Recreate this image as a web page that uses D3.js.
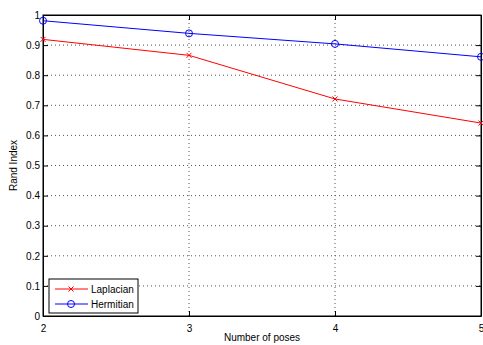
<!DOCTYPE html>
<html>
<head>
<meta charset="utf-8">
<script src="https://cdn.jsdelivr.net/npm/d3@7"></script>
<style>
  body { margin: 0; background: #fff; }
  svg text { font-family: "Liberation Sans", Arial, sans-serif; }
</style>
</head>
<body>
<div id="chart"></div>
<script>
const poses = [2, 3, 4, 5];
const laplacian = [0.919, 0.866, 0.721, 0.641];
const hermitian = [0.981, 0.939, 0.904, 0.861];
const yTicks = [0, 0.1, 0.2, 0.3, 0.4, 0.5, 0.6, 0.7, 0.8, 0.9, 1];

const W = 483, H = 345;
const margin = { top: 15, right: 2, bottom: 29, left: 43 },
  width = W - margin.left - margin.right,
  height = H - margin.top - margin.bottom;

const svg = d3.select("#chart").append("svg")
  .attr("width", W).attr("height", H)
  .append("g")
  .attr("transform", `translate(${margin.left}, ${margin.top})`);

const x = d3.scaleLinear().domain([2, 5]).range([0, width]);
const y = d3.scaleLinear().domain([0, 1]).range([height, 0]);

// grid
svg.append("g").selectAll("line").data(poses.slice(1, -1)).enter().append("line")
  .attr("x1", d => x(d)).attr("x2", d => x(d))
  .attr("y1", 0).attr("y2", height)
  .attr("stroke", "#555").attr("stroke-width", 1).attr("stroke-dasharray", "1,3");
svg.append("g").selectAll("line").data(yTicks.slice(1, -1)).enter().append("line")
  .attr("y1", d => y(d)).attr("y2", d => y(d))
  .attr("x1", 0).attr("x2", width)
  .attr("stroke", "#555").attr("stroke-width", 1).attr("stroke-dasharray", "1,3");

// axes, ticks inward like matlab
const fmt = d => d === 0 || d === 1 ? String(d) : d3.format(".1f")(d);
svg.append("g").attr("transform", `translate(0, ${height})`)
  .call(d3.axisBottom(x).tickValues(poses).tickFormat(d3.format("d")).tickSizeInner(-5).tickSizeOuter(0).tickPadding(9));
svg.append("g")
  .call(d3.axisLeft(y).tickValues(yTicks).tickFormat(fmt).tickSizeInner(-5).tickSizeOuter(0).tickPadding(3));
svg.append("g")
  .call(d3.axisTop(x).tickValues(poses).tickFormat("").tickSizeInner(-5).tickSizeOuter(0));
svg.append("g").attr("transform", `translate(${width}, 0)`)
  .call(d3.axisRight(y).tickValues(yTicks).tickFormat("").tickSizeInner(-5).tickSizeOuter(0));
svg.selectAll(".domain").attr("stroke", "#000");
svg.selectAll(".tick line").attr("stroke", "#000");
svg.selectAll(".tick text").attr("font-size", 10).attr("fill", "#000");

svg.append("rect").attr("width", width).attr("height", height)
  .attr("fill", "none").attr("stroke", "#000").attr("stroke-width", 1);

// lines
const series = [
  { name: "Laplacian", values: laplacian, color: "#ff0000", marker: "x" },
  { name: "Hermitian", values: hermitian, color: "#0000ff", marker: "o" }
];
const line = d3.line().x((d, i) => x(poses[i])).y(d => y(d));

function drawMarker(g, type, cx, cy, color) {
  if (type === "o") {
    g.append("circle").attr("cx", cx).attr("cy", cy).attr("r", 3.5)
      .attr("fill", "none").attr("stroke", color).attr("stroke-width", 1);
  } else {
    const s = 2.5;
    g.append("path")
      .attr("d", `M${cx - s},${cy - s}L${cx + s},${cy + s}M${cx - s},${cy + s}L${cx + s},${cy - s}`)
      .attr("stroke", color).attr("stroke-width", 1);
  }
}

series.forEach(s => {
  svg.append("path").datum(s.values)
    .attr("d", line).attr("fill", "none")
    .attr("stroke", s.color).attr("stroke-width", 1);
  const mg = svg.append("g");
  s.values.forEach((v, i) => drawMarker(mg, s.marker, x(poses[i]), y(v), s.color));
});

// labels
svg.append("text").attr("x", width / 2).attr("y", height + 25)
  .attr("text-anchor", "middle").attr("font-size", 10).text("Number of poses");
svg.append("text")
  .attr("transform", `translate(${-26}, ${height / 2}) rotate(-90)`)
  .attr("text-anchor", "middle").attr("font-size", 10).text("Rand Index");

// legend
const lg = svg.append("g").attr("transform", `translate(${6}, ${height - 37})`);
lg.append("rect").attr("width", 89).attr("height", 34)
  .attr("fill", "#fff").attr("stroke", "#000").attr("stroke-width", 1);
series.forEach((s, i) => {
  const ly = 10 + i * 15;
  lg.append("line").attr("x1", 6).attr("x2", 39).attr("y1", ly).attr("y2", ly)
    .attr("stroke", s.color).attr("stroke-width", 1);
  drawMarker(lg, s.marker, 22, ly, s.color);
  lg.append("text").attr("x", 42).attr("y", ly + 3.5)
    .attr("font-size", 10).text(s.name);
});
</script>
</body>
</html>
